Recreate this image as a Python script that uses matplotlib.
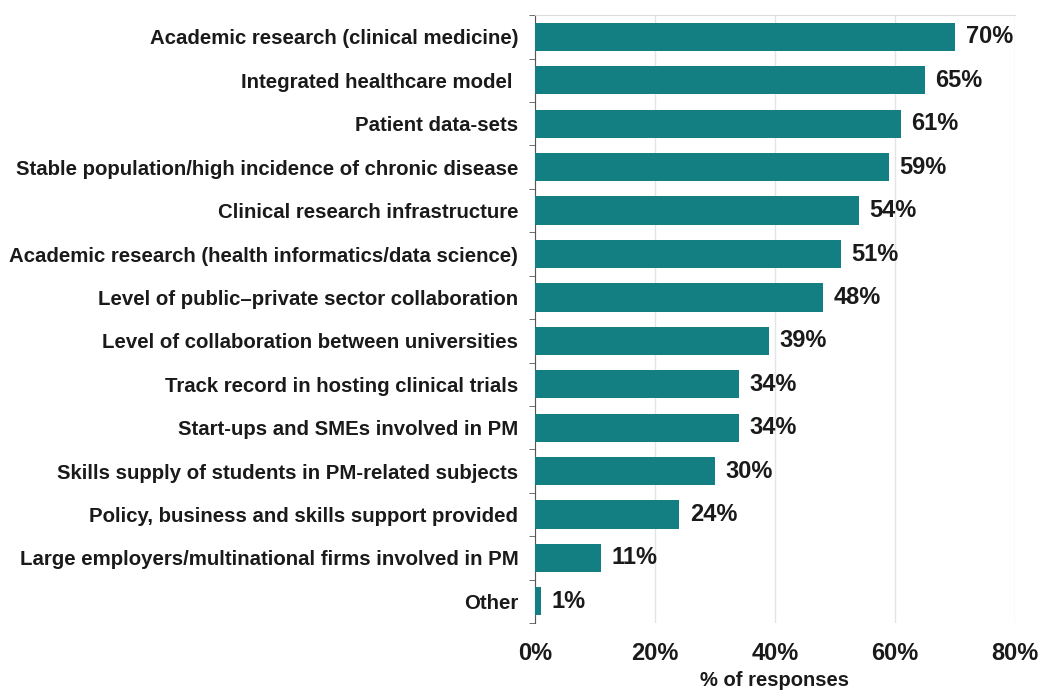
import numpy as np
import matplotlib.pyplot as plt
from matplotlib.ticker import MultipleLocator

categories = [
    "Academic research (clinical medicine)",
    "Integrated healthcare model ",
    "Patient data-sets",
    "Stable population/high incidence of chronic disease",
    "Clinical research infrastructure",
    "Academic research (health informatics/data science)",
    "Level of public\u2013private sector collaboration",
    "Level of collaboration between universities",
    "Track record in hosting clinical trials",
    "Start-ups and SMEs involved in PM",
    "Skills supply of students in PM-related subjects",
    "Policy, business and skills support provided",
    "Large employers/multinational firms involved in PM",
    "Other",
]
values = [70, 65, 61, 59, 54, 51, 48, 39, 34, 34, 30, 24, 11, 1]
xticks = [0, 20, 40, 60, 80]

plt.rcParams['font.family'] = ['Liberation Sans', 'DejaVu Sans']
plt.rcParams['font.weight'] = 'bold'

fig = plt.figure(figsize=(10.45, 6.93), dpi=100)
ax = fig.add_axes([0.512, 0.101, 0.459, 0.877])

y = np.arange(len(categories))
ax.barh(y, values, height=0.65, color='#137f83', zorder=3)

for yi, v in zip(y, values):
    ax.text(v + 1.8, yi, f"{v}%", va='center', ha='left', fontsize=17,
            fontweight='bold', color='#1a1a1a')

ax.set_ylim(len(categories) - 0.5, -0.5)
ax.set_xlim(0, 80)
ax.set_yticks(y)
ax.set_yticklabels(categories, fontsize=14.7, fontweight='bold', color='#1a1a1a')
ax.yaxis.set_minor_locator(MultipleLocator(1, offset=0.5))
ax.tick_params(axis='y', which='major', length=0, pad=12)
ax.tick_params(axis='y', which='minor', length=4, color='#555555')

ax.set_xticks(xticks)
ax.set_xticklabels([f"{t}%" for t in xticks], fontsize=17, fontweight='bold', color='#1a1a1a')
ax.tick_params(axis='x', length=0, pad=14)
ax.set_xlabel("% of responses", fontsize=14.5, fontweight='bold', labelpad=4, color='#1a1a1a')

ax.grid(axis='x', color='#e4e4e4', linewidth=1, zorder=0)
for s in ['right', 'bottom']:
    ax.spines[s].set_visible(False)
ax.spines['top'].set_color('#dddddd')
ax.spines['left'].set_color('#555555')

fig.savefig('out.png', dpi=100)
